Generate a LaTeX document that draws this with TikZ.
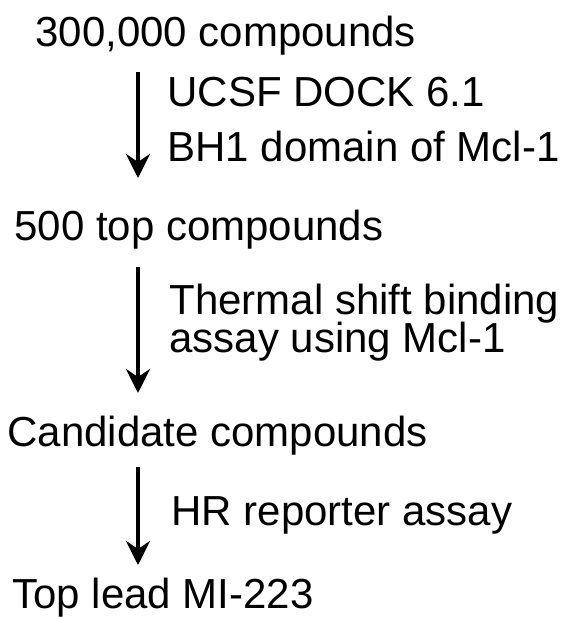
\documentclass[tikz,border=0pt]{standalone}
\usepackage{fontspec}
\setmainfont{Liberation Sans}
\usetikzlibrary{arrows.meta}
\tikzset{
  stage/.style={anchor=base west, inner sep=0pt, font=\fontsize{21}{25}\selectfont},
  method/.style={stage},
  flow/.style={line width=2.4pt, -{Stealth[length=12pt, width=12pt, inset=4pt]}},
}

\begin{document}
\begin{tikzpicture}[x=0.5pt, y=-0.5pt]
  %%%%% START %%%%%
  \useasboundingbox (0, 0) rectangle (568, 618);

  \node[stage] (lib) at (35, 46) {300,000 compounds};
  \node[method] (dock) at (167, 106) {UCSF DOCK 6.1};
  \node[method] (bh) at (167, 161) {BH1 domain of Mcl-1};

  \node[stage] (top) at (14, 240) {500 top compounds};
  \node[method] (tsa) at (169, 314) {Thermal shift binding};
  \node[method] (tsb) at (169, 352) {assay using Mcl-1};

  \node[stage] (cand) at (7, 446) {Candidate compounds};
  \node[method] (hr) at (171, 525) {HR reporter assay};

  \node[stage] (lead) at (12, 608) {Top lead MI-223};

  % arrows
  \coordinate (s1) at (138, 72);
  \coordinate (e1) at (138, 178);
  \coordinate (s2) at (138, 267);
  \coordinate (e2) at (138, 393);
  \coordinate (s3) at (138, 467);
  \coordinate (e3) at (138, 565);
  \draw[flow] (s1) -- (e1);
  \draw[flow] (s2) -- (e2);
  \draw[flow] (s3) -- (e3);
  %%%%% END %%%%%
\end{tikzpicture}
\end{document}
